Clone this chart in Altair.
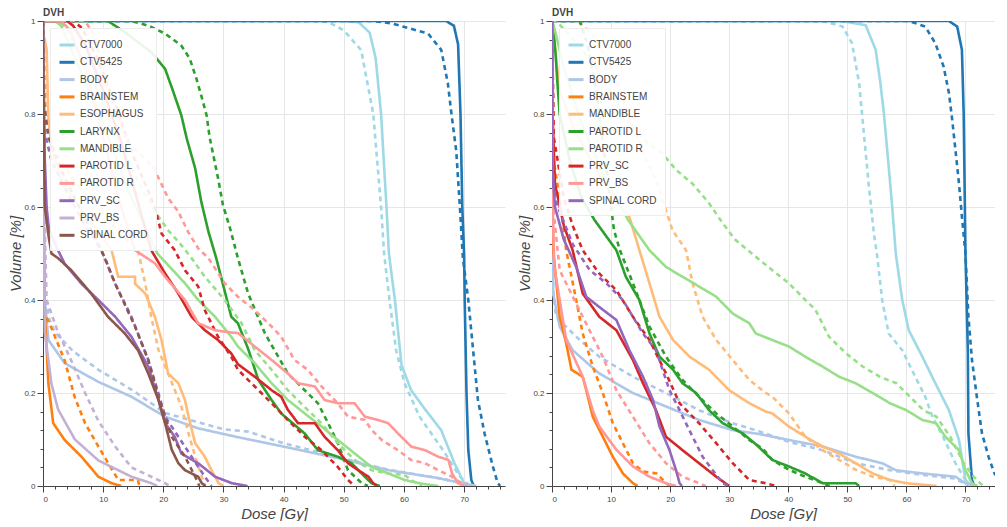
import altair as alt
import pandas as pd

FONT = "Liberation Sans"

# ---------------- LEFT PANEL ----------------
L_NAMES = ["CTV7000", "CTV5425", "BODY", "BRAINSTEM", "ESOPHAGUS", "LARYNX",
           "MANDIBLE", "PAROTID L", "PAROTID R", "PRV_SC", "PRV_BS", "SPINAL CORD"]
L_COLORS = ["#9edae5", "#1f77b4", "#aec7e8", "#ff7f0e", "#ffbb78", "#2ca02c",
            "#98df8a", "#d62728", "#ff9896", "#9467bd", "#c5b0d5", "#8c564b"]

L_CTV7000_A = [(0,1),(50,1),(52.5,0.997),(54.3,0.975),(55.3,0.92),(56.2,0.8),(57.1,0.6),(57.5,0.5),(58.5,0.4),(59.6,0.26),(61.2,0.206),(63.5,0.165),(66.2,0.12),(68.4,0.049),(70,0.006),(71,0)]
L_CTV7000_B = [(0,1),(45,1),(47.4,0.998),(50,0.98),(52.9,0.937),(54.9,0.8),(56.2,0.6),(56.7,0.5),(57.6,0.4),(58.7,0.292),(60.1,0.221),(62.6,0.149),(66.5,0.077),(69.3,0.02),(71,0)]
L_CTV5425_A = [(0,1),(67,1),(68.3,0.99),(69,0.95),(69.4,0.8),(69.7,0.6),(70.0,0.5),(70.1,0.4),(70.4,0.2),(70.7,0.077),(71.2,0.013),(71.6,0)]
L_CTV5425_B = [(0,1),(54.6,1),(58,0.995),(60.1,0.987),(64,0.973),(66.2,0.938),(67.3,0.866),(67.9,0.8),(68.7,0.72),(69.3,0.6),(69.8,0.49),(70.7,0.4),(71.5,0.292),(72.3,0.185),(73.4,0.113),(74.8,0.041),(75.6,0.006),(76,0)]
L_BODY_A = [(0,1),(0.1,0.6),(0.3,0.4),(0.9,0.314),(3.6,0.264),(9.2,0.224),(14.7,0.192),(20.3,0.149),(25.8,0.124),(32.4,0.105),(39.9,0.085),(49,0.06),(57.4,0.034),(65.7,0.017),(70,0.005),(72,0)]
L_BODY_B = [(0,1),(0.1,0.6),(0.3,0.42),(1,0.36),(2,0.33),(5,0.29),(9.2,0.25),(15,0.205),(20.3,0.157),(25,0.14),(30,0.122),(34.1,0.117),(40,0.092),(49,0.062),(57.4,0.035),(65.7,0.017),(70,0.006),(72,0)]
L_BRAINSTEM_A = [(0,1),(0.1,0.6),(0.3,0.37),(0.9,0.22),(1.7,0.135),(3.6,0.099),(6.4,0.063),(9.2,0.02),(11.4,0.006),(13,0)]
L_BRAINSTEM_B = [(0,1),(0.1,0.6),(0.3,0.37),(1.4,0.34),(3.6,0.27),(5.3,0.19),(7,0.135),(9.2,0.085),(10.8,0.05),(12.5,0.013),(15.8,0.013),(16,0)]
L_ESOPHAGUS_A = [(0,1),(0.1,0.97),(0.6,0.94),(0.9,0.79),(1.5,0.72),(3,0.66),(6,0.6),(9,0.55),(11.4,0.507),(12.5,0.45),(15.3,0.45),(15.3,0.435),(17,0.414),(18.6,0.364),(19.7,0.314),(20.8,0.242),(22.5,0.221),(23.6,0.185),(24.2,0.149),(25.3,0.092),(26.9,0.063),(28,0.034),(29.2,0.006),(30,0)]
L_ESOPHAGUS_B = [(0,1),(0.3,0.9),(0.8,0.78),(2,0.72),(5,0.66),(9,0.6),(13,0.54),(15.8,0.507),(17,0.435),(18,0.364),(19.2,0.292),(20.8,0.242),(23,0.171),(24.2,0.113),(25.3,0.063),(26.4,0.02),(27,0)]
L_LARYNX_A = [(0,1),(10.8,1),(13.6,0.976),(18,0.933),(20.3,0.897),(21.6,0.85),(23,0.797),(23.9,0.747),(25.3,0.683),(26.3,0.612),(27.5,0.547),(28.8,0.49),(31.3,0.364),(32.4,0.35),(34.1,0.295),(35.8,0.228),(38,0.185),(39.6,0.156),(43.5,0.113),(45.7,0.077),(49,0.063),(51.3,0.049),(53.5,0.02),(54.6,0.006),(56,0)]
L_LARYNX_B = [(0,1),(14.7,1),(17.5,0.99),(20.3,0.973),(23,0.947),(24.4,0.919),(25.5,0.876),(26.3,0.84),(27.2,0.797),(27.7,0.75),(29.1,0.662),(29.9,0.605),(31.1,0.554),(32.4,0.49),(34.1,0.414),(36.9,0.328),(40.7,0.242),(43.5,0.206),(45.7,0.178),(47.4,0.135),(49,0.092),(50.7,0.034),(53,0.006),(54,0)]
L_MANDIBLE_A = [(0,1),(2,1),(3,0.99),(6,0.9),(10,0.78),(14,0.64),(18.3,0.52),(19,0.5),(23.6,0.436),(25.8,0.4),(28.6,0.364),(31.3,0.321),(32.4,0.3),(35.2,0.264),(38,0.221),(40.7,0.185),(43.5,0.156),(46.3,0.128),(49,0.099),(51.8,0.07),(54.6,0.041),(57.4,0.027),(60.1,0.013),(62.9,0.005),(65.7,0)]
L_MANDIBLE_B = [(0,1),(2.5,1),(4,0.98),(8,0.88),(12,0.76),(16,0.65),(18.6,0.59),(20.8,0.55),(23,0.518),(24.7,0.49),(26.9,0.45),(30.2,0.4),(33,0.35),(35.2,0.292),(38,0.25),(40.7,0.206),(43.5,0.17),(46.3,0.135),(49,0.092),(51.8,0.056),(54.6,0.034),(57.4,0.027),(60.1,0.024),(61.2,0.013),(63,0)]
L_PAROTID_L_A = [(0,1),(4,1),(5,0.99),(7,0.95),(10,0.85),(13,0.74),(16,0.6),(18,0.507),(20.3,0.457),(22.5,0.414),(24.7,0.364),(26.9,0.335),(29.1,0.314),(31.3,0.285),(32.4,0.262),(35.2,0.235),(38,0.206),(39.6,0.192),(40.7,0.164),(42.4,0.135),(45.2,0.135),(46.8,0.106),(49,0.077),(50.7,0.049),(52.4,0.034),(54.1,0.02),(54.9,0.006),(55.5,0)]
L_PAROTID_L_B = [(0,1),(5,1),(6.5,0.985),(9,0.92),(12,0.82),(15,0.71),(18.6,0.6),(19.7,0.543),(20.8,0.525),(21.9,0.507),(23.6,0.464),(25.8,0.429),(26.9,0.378),(29.1,0.321),(31.3,0.278),(32.4,0.25),(35.2,0.214),(38,0.178),(40.7,0.142),(43.5,0.106),(46.3,0.077),(49,0.041),(50.7,0.013),(51.8,0)]
L_PAROTID_R_A = [(0,1),(3,1),(4.5,0.98),(7,0.9),(10,0.75),(13,0.6),(15.3,0.507),(18.6,0.479),(20.3,0.45),(23.6,0.4),(25.8,0.35),(28.6,0.335),(31.3,0.33),(32.4,0.329),(35.2,0.3),(38,0.271),(40.7,0.242),(42.4,0.221),(45.2,0.214),(46.8,0.185),(49,0.178),(51.8,0.178),(53.5,0.149),(55.7,0.142),(57.4,0.135),(59,0.113),(61.2,0.085),(63.5,0.077),(65.7,0.063),(67.4,0.056),(68,0.027),(69,0.006),(70,0)]
L_PAROTID_R_B = [(0,1),(7,1),(8.5,0.97),(10.8,0.85),(14,0.74),(18.3,0.687),(20.8,0.619),(22.5,0.59),(24.1,0.547),(25.8,0.511),(27.5,0.49),(30.2,0.436),(32.4,0.407),(35.2,0.378),(38,0.343),(39.6,0.321),(41.8,0.271),(44,0.25),(46.3,0.214),(49,0.178),(50.7,0.149),(53.5,0.142),(54.6,0.121),(56.3,0.099),(59,0.077),(61.2,0.056),(63.5,0.049),(65.7,0.034),(68,0.02),(69.6,0.006),(70.5,0)]
L_PRV_SC_A = [(0,1),(0.3,0.7),(0.6,0.6),(1,0.55),(2.5,0.507),(3.6,0.478),(6.4,0.435),(9.2,0.4),(12,0.364),(14.7,0.321),(17.5,0.257),(19.2,0.185),(20.3,0.135),(21.9,0.106),(23,0.07),(25.8,0.049),(28.6,0.02),(31.4,0.006),(34,0)]
L_PRV_SC_B = [(0,1),(0.2,0.8),(0.3,0.76),(1.4,0.70),(4,0.63),(7,0.56),(9.7,0.507),(12,0.435),(14.7,0.364),(17.5,0.271),(19.2,0.199),(20.3,0.149),(22.5,0.106),(24.7,0.063),(26.9,0.02),(28,0)]
L_PRV_BS_A = [(0,1),(0.1,0.6),(0.3,0.33),(1.4,0.22),(2.5,0.165),(5.3,0.1),(9.2,0.055),(14.7,0.02),(18,0.006),(19,0)]
L_PRV_BS_B = [(0,1),(0.2,0.6),(0.6,0.4),(2.5,0.33),(4.7,0.27),(7,0.2),(9.2,0.14),(12,0.085),(14.7,0.04),(18,0.02),(20.3,0.006),(21,0)]
L_SPINAL_CORD_A = [(0,1),(0.1,0.8),(0.3,0.6),(0.9,0.54),(1.4,0.5),(2.5,0.49),(4.7,0.464),(8,0.414),(10.8,0.364),(13.6,0.328),(15.8,0.292),(17.5,0.242),(19.2,0.185),(20.3,0.135),(21.4,0.078),(22.5,0.049),(23.6,0.034),(25.8,0.02),(26.4,0.006),(27,0)]
L_SPINAL_CORD_B = [(0,1),(0.05,0.83),(0.3,0.81),(0.9,0.75),(3,0.68),(6,0.6),(9.2,0.52),(10.3,0.49),(12,0.435),(15.3,0.343),(17.5,0.271),(19.2,0.192),(20.3,0.149),(21.4,0.106),(23.6,0.063),(25.3,0.02),(26,0)]

# ---------------- RIGHT PANEL ----------------
R_NAMES = ["CTV7000", "CTV5425", "BODY", "BRAINSTEM", "MANDIBLE", "PAROTID L",
           "PAROTID R", "PRV_SC", "PRV_BS", "SPINAL CORD"]
R_COLORS = ["#9edae5", "#1f77b4", "#aec7e8", "#ff7f0e", "#ffbb78", "#2ca02c",
            "#98df8a", "#d62728", "#ff9896", "#9467bd"]

R_CTV7000_A = [(0,1),(49,1),(53.1,0.991),(54.8,0.938),(55.6,0.866),(56.2,0.8),(57,0.687),(57.6,0.6),(58.2,0.5),(59.3,0.4),(60.4,0.335),(62.7,0.278),(64.9,0.221),(67.2,0.163),(68.9,0.099),(70,0.013),(71,0)]
R_CTV7000_B = [(0,1),(45.8,1),(49.2,0.988),(50.8,0.952),(52,0.866),(52.8,0.758),(53.6,0.651),(54.5,0.543),(55,0.5),(55.9,0.4),(57,0.328),(59.3,0.292),(61.5,0.235),(63.2,0.192),(64.4,0.149),(66.2,0.106),(68.3,0.049),(70,0.013),(71,0)]
R_CTV5425_A = [(0,1),(67.2,1),(68.6,0.988),(69.4,0.938),(69.7,0.8),(70,0.5),(70.4,0.29),(70.5,0.113),(71.1,0.013),(71.5,0)]
R_CTV5425_B = [(0,1),(60.4,1),(63.2,0.988),(64.9,0.952),(66.3,0.902),(67.2,0.845),(67.7,0.794),(68.3,0.723),(68.9,0.651),(69.4,0.579),(70,0.5),(70.5,0.364),(71.1,0.271),(72,0.185),(72.8,0.113),(73.9,0.063),(74.9,0.027),(76.2,0.006),(77,0)]
R_BODY_A = [(0,1),(0.05,0.6),(0.2,0.414),(1.3,0.343),(3.5,0.292),(8,0.242),(13.7,0.2),(19.3,0.171),(24.9,0.142),(30.6,0.12),(35,0.112),(40.1,0.099),(45.8,0.085),(51.4,0.063),(55.9,0.049),(58.2,0.034),(62.7,0.027),(68.3,0.02),(70,0.006),(72,0)]
R_BODY_B = [(0,1),(0.05,0.6),(0.2,0.42),(0.7,0.364),(4.1,0.321),(8,0.278),(13.7,0.235),(19.3,0.2),(24.9,0.163),(30.6,0.135),(35,0.118),(40.1,0.095),(45.8,0.077),(51.4,0.049),(57.2,0.034),(62.7,0.024),(68.3,0.016),(70.5,0)]
R_BRAINSTEM_A = [(0,1),(0.1,0.6),(0.2,0.507),(1.3,0.364),(2.4,0.307),(3.3,0.25),(5.2,0.235),(5.8,0.206),(6.9,0.149),(8.6,0.106),(10.3,0.063),(12,0.027),(13.7,0.006),(14.5,0)]
R_BRAINSTEM_B = [(0,1),(0.3,0.7),(1.5,0.6),(2.4,0.507),(4.1,0.4),(5.2,0.328),(6.9,0.257),(8.6,0.2),(10.3,0.135),(12,0.092),(13.7,0.049),(15.4,0.031),(17.7,0.027),(19.3,0.006),(20,0)]
R_MANDIBLE_A = [(0,1),(0.1,0.99),(1.3,0.85),(4,0.76),(8,0.67),(11,0.61),(13.1,0.579),(14.8,0.507),(16.5,0.436),(18.2,0.364),(20.5,0.314),(23.3,0.278),(26.6,0.25),(30,0.206),(33.4,0.178),(36.2,0.16),(37.3,0.156),(40.1,0.128),(42.9,0.106),(45.8,0.085),(48.6,0.07),(51.4,0.049),(54.3,0.027),(57.2,0.013),(60,0.006),(65.1,0)]
R_MANDIBLE_B = [(0,1),(4.4,1),(7,0.97),(10,0.9),(13,0.8),(16,0.7),(17.6,0.66),(20.4,0.55),(22.7,0.507),(23.8,0.436),(25.5,0.364),(27.8,0.314),(30.6,0.271),(33.4,0.228),(36.2,0.2),(37.3,0.192),(40.1,0.156),(42.9,0.106),(45.8,0.077),(48.6,0.056),(51.4,0.035),(54.3,0.02),(57.2,0.013),(58,0)]
R_PAROTID_L_A = [(0,1),(0.2,0.988),(0.6,0.93),(0.9,0.87),(1.3,0.8),(3,0.7),(5,0.62),(7.2,0.572),(10.9,0.507),(12.5,0.45),(14.8,0.4),(16.5,0.328),(18.2,0.278),(20.5,0.25),(22.1,0.221),(24.4,0.2),(26.6,0.163),(28.9,0.135),(32.3,0.113),(34.5,0.09),(37.3,0.056),(40.1,0.042),(42.9,0.027),(45.8,0.006),(51.4,0.006),(52,0)]
R_PAROTID_L_B = [(0,1),(4.7,1),(6,0.95),(7.5,0.85),(9,0.7),(10.5,0.55),(11.5,0.507),(13.7,0.436),(16.5,0.343),(19.3,0.278),(22.1,0.228),(24.9,0.192),(27.8,0.156),(30.6,0.128),(33.4,0.099),(35.7,0.08),(37.3,0.056),(40.1,0.035),(42.9,0.02),(45.8,0.006),(47,0)]
R_PAROTID_R_A = [(0,1),(0.5,0.98),(2,0.9),(5,0.78),(9,0.66),(13,0.57),(16.5,0.507),(19.3,0.471),(22.1,0.45),(24.9,0.429),(27.8,0.407),(30.6,0.371),(33.4,0.35),(34.5,0.328),(37.3,0.314),(40.1,0.3),(42.9,0.278),(45.8,0.257),(48.6,0.235),(51.4,0.221),(54.3,0.2),(57.2,0.178),(60,0.163),(62.7,0.142),(65,0.135),(66.6,0.106),(68.9,0.077),(70,0.034),(71.1,0.006),(72,0)]
R_PAROTID_R_B = [(0,1),(0.7,1),(3,0.97),(7.5,0.9),(12,0.8),(16,0.74),(18.7,0.715),(21,0.68),(23.8,0.65),(26.6,0.608),(28.9,0.565),(31,0.53),(34.5,0.493),(37.3,0.464),(40.1,0.436),(42.9,0.4),(44.6,0.379),(46.9,0.321),(49.8,0.285),(52.6,0.257),(55.5,0.235),(58.3,0.221),(60.6,0.192),(62.9,0.163),(65.1,0.149),(67.4,0.106),(69.7,0.049),(71.4,0.02),(72.5,0.006),(73,0)]
R_PRV_SC_A = [(0,1),(0.1,0.8),(0.5,0.65),(2,0.56),(3.5,0.507),(5.2,0.414),(8,0.364),(10.9,0.335),(13.7,0.271),(15.4,0.221),(17.6,0.163),(19.3,0.106),(22.1,0.077),(24.9,0.049),(27.8,0.02),(30,0)]
R_PRV_SC_B = [(0,1),(0.3,0.75),(2,0.62),(3.5,0.56),(5.2,0.507),(8,0.457),(10.9,0.421),(13.7,0.364),(16.5,0.314),(19.3,0.242),(21.6,0.178),(24.9,0.135),(27.8,0.092),(30.6,0.049),(33.4,0.013),(36.2,0.006),(38,0)]
R_PRV_BS_A = [(0,1),(0.1,0.6),(0.4,0.471),(2.4,0.314),(5.2,0.235),(6.9,0.163),(8,0.128),(10.9,0.078),(13.7,0.042),(16.5,0.02),(19.3,0.006),(21,0)]
R_PRV_BS_B = [(0,1),(0.2,0.6),(1.3,0.464),(5.2,0.364),(8.6,0.278),(10.9,0.206),(13.7,0.149),(16.5,0.092),(19.3,0.049),(22.1,0.02),(24.9,0.006),(26,0)]
R_SPINAL_CORD_A = [(0,1),(0.05,0.69),(0.5,0.6),(2,0.53),(4.1,0.471),(5.8,0.407),(8,0.385),(10.9,0.357),(13.1,0.292),(15.4,0.235),(17.1,0.185),(18.2,0.128),(19.9,0.077),(21,0.034),(21.6,0.006),(22,0)]
R_SPINAL_CORD_B = [(0,1),(0.1,0.65),(1,0.6),(3.5,0.52),(6.4,0.464),(9.2,0.436),(12,0.4),(15.4,0.328),(17.6,0.292),(19.9,0.206),(21.6,0.163),(23.8,0.106),(25.5,0.063),(27.2,0.034),(28.9,0.006),(30,0)]

L_CURVES = [
    ("CTV7000", L_CTV7000_A, L_CTV7000_B), ("CTV5425", L_CTV5425_A, L_CTV5425_B),
    ("BODY", L_BODY_A, L_BODY_B), ("BRAINSTEM", L_BRAINSTEM_A, L_BRAINSTEM_B),
    ("ESOPHAGUS", L_ESOPHAGUS_A, L_ESOPHAGUS_B), ("LARYNX", L_LARYNX_A, L_LARYNX_B),
    ("MANDIBLE", L_MANDIBLE_A, L_MANDIBLE_B), ("PAROTID L", L_PAROTID_L_A, L_PAROTID_L_B),
    ("PAROTID R", L_PAROTID_R_A, L_PAROTID_R_B), ("PRV_SC", L_PRV_SC_A, L_PRV_SC_B),
    ("PRV_BS", L_PRV_BS_A, L_PRV_BS_B), ("SPINAL CORD", L_SPINAL_CORD_A, L_SPINAL_CORD_B),
]
R_CURVES = [
    ("CTV7000", R_CTV7000_A, R_CTV7000_B), ("CTV5425", R_CTV5425_A, R_CTV5425_B),
    ("BODY", R_BODY_A, R_BODY_B), ("BRAINSTEM", R_BRAINSTEM_A, R_BRAINSTEM_B),
    ("MANDIBLE", R_MANDIBLE_A, R_MANDIBLE_B), ("PAROTID L", R_PAROTID_L_A, R_PAROTID_L_B),
    ("PAROTID R", R_PAROTID_R_A, R_PAROTID_R_B), ("PRV_SC", R_PRV_SC_A, R_PRV_SC_B),
    ("PRV_BS", R_PRV_BS_A, R_PRV_BS_B), ("SPINAL CORD", R_SPINAL_CORD_A, R_SPINAL_CORD_B),
]


def build(curves):
    rows = []
    for name, a, b in curves:
        for plan, pts in (("A", a), ("B", b)):
            for i, (d, v) in enumerate(pts):
                rows.append({"structure": name, "plan": plan, "key": name + "|" + plan,
                             "i": i, "dose": d, "vol": v})
    return pd.DataFrame(rows)


def panel(df, names, colors, xmax, width, title_x):
    xmaj = "datum.value % 10 === 0"
    ymaj = "abs(datum.value * 5 - round(datum.value * 5)) < 0.000001"
    xaxis = alt.Axis(
        values=list(range(0, int(xmax) + 1, 2)), title="Dose [Gy]", labelOverlap=False,
        labelExpr=f"{xmaj} ? datum.label : ''", labelPadding=3, titlePadding=3,
        titleX=title_x,
        tickSize={"condition": {"test": xmaj, "value": 6}, "value": 3},
        gridOpacity={"condition": {"test": xmaj, "value": 1}, "value": 0},
    )
    yaxis = alt.Axis(
        values=[round(i * 0.04, 2) for i in range(26)], title="Volume [%]", labelOverlap=False,
        format=".2~f", labelExpr=f"{ymaj} ? datum.label : ''", labelPadding=2, titlePadding=0,
        tickSize={"condition": {"test": ymaj, "value": 6}, "value": 3},
        gridOpacity={"condition": {"test": ymaj, "value": 1}, "value": 0},
    )
    return alt.Chart(df, title=alt.TitleParams(
        "DVH", anchor="start", fontSize=10, fontWeight="bold", color="#444444",
        font=FONT, offset=-1, frame="group")).mark_line(strokeWidth=2.6, clip=True).encode(
        x=alt.X("dose:Q", scale=alt.Scale(domain=[0, xmax], nice=False, zero=False), axis=xaxis),
        y=alt.Y("vol:Q", scale=alt.Scale(domain=[0, 1], nice=False), axis=yaxis),
        color=alt.Color("structure:N", scale=alt.Scale(domain=names, range=colors),
                        legend=alt.Legend(
                            title=None, orient="top-left", offset=7, padding=8,
                            fillColor="rgba(255,255,255,0.9)", strokeColor="#ececec",
                            labelFontSize=10, labelColor="#444444", labelFont=FONT,
                            symbolType="stroke", symbolStrokeWidth=3, symbolSize=225,
                            rowPadding=2.3, labelOffset=4)),
        strokeDash=alt.StrokeDash("plan:N", scale=alt.Scale(domain=["A", "B"], range=[[1, 0], [5, 4]]),
                                  legend=None),
        detail="key:N",
        order="i:Q",
    ).properties(width=width, height=465)


left = panel(build(L_CURVES), L_NAMES, L_COLORS, 76.8, 462, 231)
right = panel(build(R_CURVES), R_NAMES, R_COLORS, 75.0, 443, 231)

chart = alt.hconcat(left, right, spacing=12).resolve_scale(
    color="independent", strokeDash="independent", x="independent", y="independent"
).resolve_legend(color="independent").properties(
    padding={"left": 0, "top": 0, "right": 0, "bottom": 0}
).configure_view(stroke=None).configure_axis(
    domainColor="#444444", tickColor="#444444", labelColor="#444444", titleColor="#444444",
    gridColor="#e6e6e6", labelFontSize=8, labelFont=FONT, titleFont=FONT,
    titleFontSize=15, titleFontStyle="italic", titleFontWeight="normal",
)

chart.save("out.html", embed_options={"renderer": "svg", "actions": False})
